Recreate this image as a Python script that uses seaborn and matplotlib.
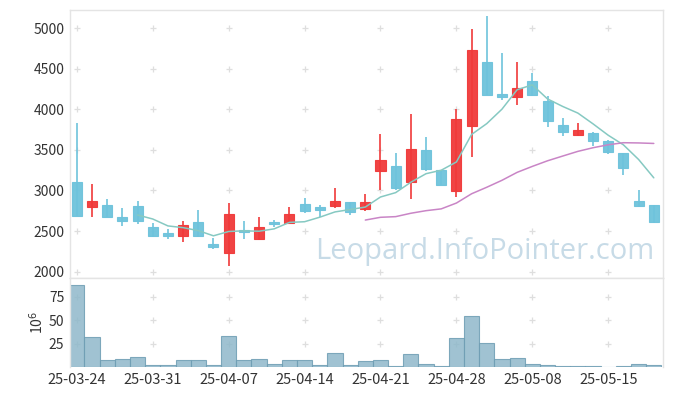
import numpy as np
import pandas as pd
import seaborn as sns
import matplotlib.pyplot as plt

dates = ['25-03-24', '25-03-25', '25-03-26', '25-03-27', '25-03-28',
         '25-03-31', '25-04-01', '25-04-02', '25-04-03', '25-04-04',
         '25-04-07', '25-04-08', '25-04-09', '25-04-10', '25-04-11',
         '25-04-14', '25-04-15', '25-04-16', '25-04-17', '25-04-18',
         '25-04-21', '25-04-22', '25-04-23', '25-04-24', '25-04-25',
         '25-04-28', '25-04-29', '25-04-30', '25-05-02', '25-05-07',
         '25-05-08', '25-05-09', '25-05-12', '25-05-13', '25-05-14',
         '25-05-15', '25-05-16', '25-05-19', '25-05-20']

opens = [3100, 2795, 2816, 2672, 2804, 2545, 2476, 2443, 2611, 2336,
         2234, 2517, 2406, 2611, 2603, 2828, 2795, 2812, 2853, 2767,
         3242, 3300, 3107, 3496, 3250, 2996, 3796, 4579, 4193, 4152,
         4345, 4099, 3800, 3677, 3706, 3603, 3455, 2865, 2816]
highs = [3830, 3074, 2890, 2779, 2869, 2603, 2521, 2619, 2754, 2410,
         2840, 2619, 2668, 2636, 2791, 2902, 2824, 3033, 2853, 2951,
         3701, 3455, 3947, 3656, 3250, 3997, 4989, 5145, 4698, 4587,
         4452, 4165, 3898, 3833, 3714, 3620, 3455, 3000, 2816]
lows = [2680, 2668, 2668, 2566, 2586, 2422, 2406, 2361, 2430, 2283,
        2070, 2406, 2385, 2550, 2595, 2726, 2677, 2779, 2697, 2750,
        3004, 3004, 2890, 3238, 3070, 2922, 3410, 4177, 4111, 4046,
        4160, 3775, 3669, 3669, 3546, 3447, 3189, 2800, 2595]
closes = [2690, 2869, 2676, 2627, 2627, 2443, 2443, 2570, 2443, 2308,
          2709, 2484, 2545, 2590, 2705, 2750, 2763, 2869, 2738, 2857,
          3369, 3033, 3509, 3263, 3070, 3878, 4727, 4177, 4152, 4267,
          4177, 3861, 3714, 3743, 3603, 3476, 3271, 2812, 2615]
# volume in millions
volumes = [87, 32, 8, 9, 11, 2, 2, 8, 8, 2,
           33, 8, 9, 3, 8, 8, 2, 15, 2, 7,
           8, 1, 14, 3, 1, 31, 54, 26, 9, 10,
           3, 2, 1, 1, 1, 0.2, 1, 3, 2]

df = pd.DataFrame({'date': dates, 'open': opens, 'high': highs,
                   'low': lows, 'close': closes, 'volume': volumes})
df['idx'] = np.arange(len(df))
df['ma5'] = df['close'].rolling(5).mean()
df['ma20'] = df['close'].rolling(20).mean()

sns.set_style('white')
plt.rcParams['font.family'] = ['Noto Sans CJK KR', 'DejaVu Sans']

UP = '#f03a3a'
DOWN = '#6ec3dc'
EDGE = '#e4e4e4'

fig = plt.figure(figsize=(6.73, 3.96), dpi=100)
ax = fig.add_axes([0.104, 0.298, 0.881, 0.677])
axv = fig.add_axes([0.104, 0.073, 0.881, 0.225], sharex=ax)

xticks = list(range(0, len(df), 5))
yticks = [2000, 2500, 3000, 3500, 4000, 4500, 5000]
vticks = [25, 50, 75]

# grid crosses
gx, gy = np.meshgrid(xticks, yticks)
ax.scatter(gx.ravel(), gy.ravel(), marker='+', s=16, color='#dedede', linewidths=0.9, zorder=0)
gx, gy = np.meshgrid(xticks, vticks)
axv.scatter(gx.ravel(), gy.ravel(), marker='+', s=16, color='#dedede', linewidths=0.9, zorder=0)

# candles
up = df['close'] >= df['open']
for mask, col in [(up, UP), (~up, DOWN)]:
    d = df[mask]
    ax.vlines(d['idx'], d['low'], d['high'], color=col, linewidth=1.2, zorder=2)
    bottom = np.minimum(d['open'], d['close'])
    height = np.abs(d['close'] - d['open'])
    ax.bar(d['idx'], height, bottom=bottom, width=0.66, color=col, alpha=0.95,
           edgecolor=col, linewidth=0.8, zorder=3)

sns.lineplot(data=df, x='idx', y='ma5', ax=ax, color='#86c9c2', linewidth=1.1, zorder=4)
sns.lineplot(data=df, x='idx', y='ma20', ax=ax, color='#c985c6', linewidth=1.1, zorder=4)

ax.text(0.985, 0.045, 'Leopard.InfoPointer.com', transform=ax.transAxes,
        ha='right', va='bottom', fontsize=21, color='#b5cfdf', alpha=0.75,
        family=['Open Sans', 'DejaVu Sans'], zorder=5)

ax.set_ylim(1922, 5223)
ax.set_yticks(yticks)
ax.set_xlim(-0.45, 38.6)
ax.set_xlabel('')
ax.set_ylabel('')
ax.tick_params(axis='x', labelbottom=False, length=0)
ax.tick_params(axis='y', length=0, labelsize=10, labelcolor='#333333', pad=4)

# volume
axv.bar(df['idx'], df['volume'], width=1.0, color='#8fb8ca', alpha=0.85,
        edgecolor='#6e9db3', linewidth=0.8, zorder=2)
axv.set_ylim(0, 95)
axv.set_yticks(vticks)
axv.set_ylabel('10$^6$', fontsize=10, color='#333333', labelpad=2)
axv.set_xticks(xticks)
axv.set_xticklabels([dates[i] for i in xticks])
axv.tick_params(axis='y', length=0, labelsize=10, labelcolor='#333333', pad=4)
axv.tick_params(axis='x', length=0, labelsize=10.5, labelcolor='#333333', pad=4)
axv.set_xlabel('')

for a in (ax, axv):
    for s in a.spines.values():
        s.set_color(EDGE)
        s.set_linewidth(1.0)
axv.spines['bottom'].set_visible(False)

fig.savefig('out.png', dpi=100)
